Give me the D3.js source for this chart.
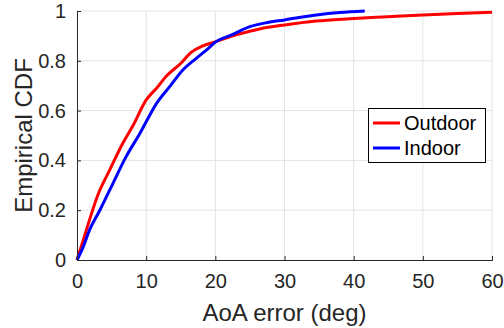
<!DOCTYPE html>
<html>
<head>
<meta charset="utf-8">
<script src="https://cdn.jsdelivr.net/npm/d3@7"></script>
<style>
  body { margin: 0; background: #fff; }
  text { font-family: "Liberation Sans", Arial, Helvetica, sans-serif; fill: #262626; }
</style>
</head>
<body>
<div class="cdfChart"></div>
<script>
// AoA error (deg) vs. empirical CDF
var outdoorX = [0, 0.9, 1.8, 3.0, 4.7, 6.6, 8.1, 10.0, 11.5, 12.9, 15.1, 16.5, 18.2, 20.1, 23.0, 26.4, 30.0, 34.6, 39.4, 45.0, 50.0, 55.0, 60.0];
var outdoorY = [0, 0.08, 0.16, 0.26, 0.36, 0.468, 0.54, 0.643, 0.69, 0.738, 0.792, 0.834, 0.86, 0.877, 0.904, 0.928, 0.944, 0.96, 0.969, 0.977, 0.984, 0.99, 0.995];
var indoorX = [0, 0.9, 1.8, 3.3, 5.2, 7.1, 9.1, 10.0, 11.5, 13.4, 15.3, 17.25, 18.7, 20.1, 22.1, 25.0, 27.4, 30.0, 34.6, 38.0, 41.6];
var indoorY = [0, 0.053, 0.12, 0.2, 0.308, 0.415, 0.509, 0.555, 0.629, 0.696, 0.763, 0.81, 0.843, 0.877, 0.901, 0.937, 0.953, 0.964, 0.984, 0.994, 1.0];
var seriesNames = ["Outdoor", "Indoor"];
var seriesColors = ["#ff0000", "#0000ff"];
var xTicks = [0, 10, 20, 30, 40, 50, 60];
var yTicks = [0, 0.2, 0.4, 0.6, 0.8, 1];

var width = 504,
    height = 328,
    margin = { top: 11, right: 12, bottom: 68, left: 77 },
    tickLen = 4;

var innerW = width - margin.left - margin.right,
    innerH = height - margin.top - margin.bottom;

var svg = d3.select(".cdfChart").append("svg")
    .attr("width", width)
    .attr("height", height);

var g = svg.append("g")
    .attr("transform", "translate(" + margin.left + "," + margin.top + ")");

var x = d3.scaleLinear().domain([0, 60]).range([0, innerW]);
var y = d3.scaleLinear().domain([0, 1]).range([innerH, 0]);

// grid
g.append("g").selectAll("line").data(xTicks.slice(1)).enter().append("line")
    .attr("x1", function(d) { return x(d); }).attr("x2", function(d) { return x(d); })
    .attr("y1", 0).attr("y2", innerH)
    .attr("stroke", "#e3e3e3").attr("stroke-width", 1);
g.append("g").selectAll("line").data(yTicks.slice(1)).enter().append("line")
    .attr("x1", 0).attr("x2", innerW)
    .attr("y1", function(d) { return y(d); }).attr("y2", function(d) { return y(d); })
    .attr("stroke", "#e3e3e3").attr("stroke-width", 1);

// curves
var series = [
  d3.zip(outdoorX, outdoorY),
  d3.zip(indoorX, indoorY)
];
var line = d3.line()
    .curve(d3.curveMonotoneX)
    .x(function(d) { return x(d[0]); })
    .y(function(d) { return y(d[1]); });

g.append("defs").append("clipPath").attr("id", "plotClip")
  .append("rect").attr("x", -2).attr("y", -2).attr("width", innerW + 2).attr("height", innerH + 4);

g.append("g").attr("clip-path", "url(#plotClip)")
  .selectAll("path").data(series).enter().append("path")
    .attr("d", line)
    .attr("fill", "none")
    .attr("stroke", function(d, i) { return seriesColors[i]; })
    .attr("stroke-width", 3)
    .attr("stroke-linejoin", "round");

// axes (MATLAB style: ticks inward, box off)
var xAxis = g.append("g")
    .attr("transform", "translate(0," + innerH + ")")
    .call(d3.axisBottom(x).tickValues(xTicks).tickSize(-tickLen).tickPadding(tickLen + 10).tickFormat(d3.format("d")));
var yAxis = g.append("g")
    .call(d3.axisLeft(y).tickValues(yTicks).tickSize(-tickLen).tickPadding(tickLen + 7).tickFormat(function(d) { return d === 0 || d === 1 ? d : d3.format(".1f")(d); }));

[xAxis, yAxis].forEach(function(a) {
  a.select(".domain").attr("stroke", "#262626").attr("stroke-width", 1);
  a.selectAll(".tick line").attr("stroke", "#262626");
  a.selectAll(".tick text")
    .style("font-family", '"Liberation Sans", Arial, Helvetica, sans-serif')
    .style("font-size", "20px")
    .attr("fill", "#262626");
});

// axis labels
svg.append("text")
    .attr("x", margin.left + innerW / 2)
    .attr("y", 321)
    .style("text-anchor", "middle")
    .style("font-size", "24px")
    .text("AoA error (deg)");

svg.append("text")
    .attr("transform", "translate(32," + (margin.top + innerH / 2) + ") rotate(-90)")
    .style("text-anchor", "middle")
    .style("font-size", "24px")
    .text("Empirical CDF");

// legend
var legend = svg.append("g").attr("transform", "translate(368,108)");
legend.append("rect")
    .attr("x", 0.5).attr("y", 0.5)
    .attr("width", 117).attr("height", 54)
    .attr("fill", "#fff").attr("stroke", "#000").attr("stroke-width", 1);

var item = legend.selectAll(".legendItem").data(seriesNames).enter().append("g")
    .attr("class", "legendItem")
    .attr("transform", function(d, i) { return "translate(0," + (15 + i * 25) + ")"; });

item.append("line")
    .attr("x1", 5).attr("x2", 32)
    .attr("y1", 0).attr("y2", 0)
    .attr("stroke", function(d, i) { return seriesColors[i]; })
    .attr("stroke-width", 3);

item.append("text")
    .attr("x", 36)
    .attr("dy", "0.35em")
    .style("font-size", "20px")
    .style("fill", "#000")
    .text(function(d) { return d; });
</script>
</body>
</html>
